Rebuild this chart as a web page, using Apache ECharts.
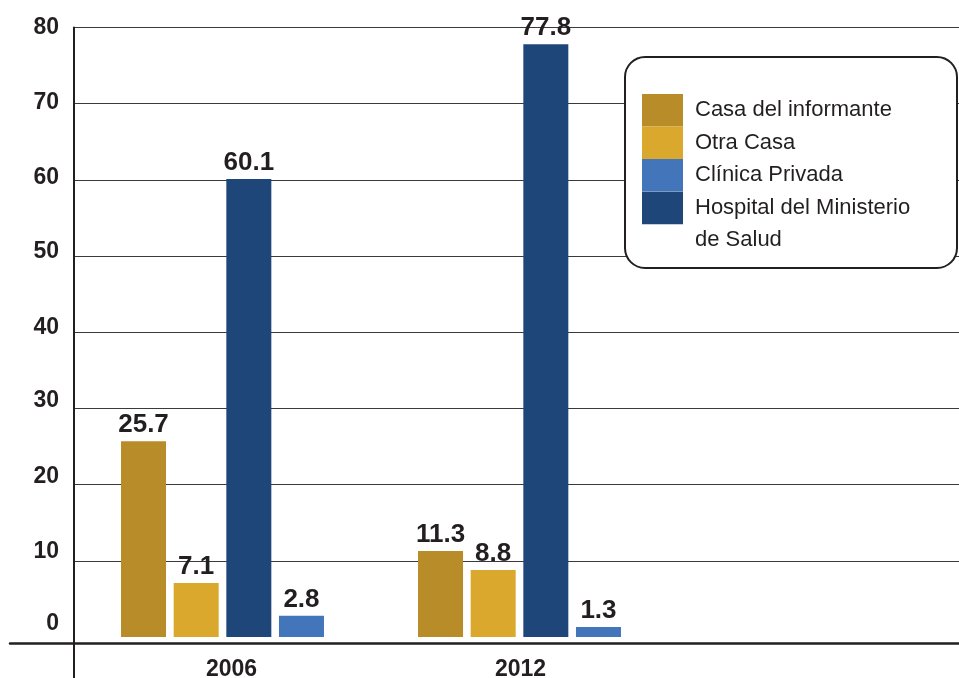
<!DOCTYPE html>
<html>
<head>
<meta charset="utf-8">
<script src="https://cdn.jsdelivr.net/npm/echarts@6/dist/echarts.min.js"></script>
<style>
  html, body { margin: 0; padding: 0; background: #fff; }
  #chart { width: 959px; height: 678px; }
</style>
</head>
<body>
<div id="chart"></div>
<script>
// Categories (an empty third slot leaves room on the right for the legend)
const years = ['2006', '2012', ''];

// Percent of births by place of delivery
const casaInformante = [25.7, 11.3, null];
const otraCasa = [7.1, 8.8, null];
const hospitalMinisterio = [60.1, 77.8, null];
const clinicaPrivada = [2.8, 1.3, null];

// Value axis ticks
const yMin = 0;
const yMax = 80;
const yStep = 10;

const names = {
  casa: 'Casa del informante',
  otra: 'Otra Casa',
  clinica: 'Clínica Privada',
  hospital: 'Hospital del Ministerio de Salud'
};

const colors = {
  casa: '#B88D29',
  otra: '#D9A82C',
  clinica: '#4275BA',
  hospital: '#1F4679'
};

const ink = '#231f20';
const sans = '"Liberation Sans", Arial, sans-serif';

// how far each tick label is lifted above its grid line (bottom padding, px)
const tickLift = { 0: 26, 10: 18, 20: 15, 30: 16, 40: 10, 50: 8, 60: 5, 70: 3, 80: 0 };
const yRich = {};
for (let v = yMin; v <= yMax; v += yStep) {
  yRich['l' + v] = {
    color: ink,
    fontFamily: sans,
    fontWeight: 'bold',
    fontSize: 23,
    padding: [0, 0, tickLift[v] != null ? tickLift[v] : 14, 0]
  };
}

// year labels sit slightly right of their bar groups
const yearShift = { '2006': 18, '2012': 2 };
const categoryData = years.map(y => ({
  value: y,
  textStyle: { padding: [0, 0, 0, yearShift[y] || 0] }
}));

const chart = echarts.init(document.getElementById('chart'), null, { renderer: 'canvas' });

function barSeries(key, values) {
  return {
    name: names[key],
    type: 'bar',
    xAxisIndex: 0,
    yAxisIndex: 0,
    data: values,
    barWidth: 45,
    barGap: '17%',
    itemStyle: { color: colors[key] },
    label: {
      show: true,
      position: 'top',
      distance: 3,
      color: ink,
      fontFamily: sans,
      fontWeight: 'bold',
      fontSize: 26,
      formatter: p => (p.value == null ? '' : p.value.toFixed(1))
    }
  };
}

const legendText = {
  color: ink,
  fontFamily: sans,
  fontSize: 22,
  lineHeight: 32,
  padding: [0, 0, 0, 7]
};

const option = {
  animation: false,
  backgroundColor: '#ffffff',
  grid: [
    // plotting area
    { left: 74, top: 27.5, width: 891, bottom: 41, outerBoundsMode: 'none' },
    // long vertical axis line reaching the bottom edge
    { left: 74, top: 27.5, width: 10, bottom: 0, outerBoundsMode: 'none' },
    // long horizontal base line
    { left: 10, right: 0, top: 27.5, bottom: 35, outerBoundsMode: 'none' }
  ],
  xAxis: [
    {
      gridIndex: 0,
      type: 'category',
      data: categoryData,
      axisLine: { show: false },
      axisTick: { show: false },
      axisLabel: {
        margin: 21,
        color: ink,
        fontFamily: sans,
        fontWeight: 'bold',
        fontSize: 23
      },
      splitLine: { show: false }
    },
    { gridIndex: 1, type: 'value', show: false },
    {
      gridIndex: 2,
      type: 'value',
      axisLine: { show: true, onZero: false, lineStyle: { color: ink, width: 2.5 } },
      axisTick: { show: false },
      axisLabel: { show: false },
      splitLine: { show: false }
    }
  ],
  yAxis: [
    {
      gridIndex: 0,
      type: 'value',
      min: yMin,
      max: yMax,
      interval: yStep,
      axisLine: { show: false },
      axisTick: { show: false },
      axisLabel: {
        margin: 15,
        color: ink,
        fontFamily: sans,
        fontWeight: 'bold',
        fontSize: 23,
        formatter: v => '{l' + v + '|' + v + '}',
        rich: yRich
      },
      splitLine: {
        show: true,
        showMinLine: false,
        lineStyle: { color: '#3a3a3a', width: 1 }
      }
    },
    {
      gridIndex: 1,
      type: 'value',
      position: 'left',
      axisLine: { show: true, onZero: false, lineStyle: { color: ink, width: 2 } },
      axisTick: { show: false },
      axisLabel: { show: false },
      splitLine: { show: false }
    },
    { gridIndex: 2, type: 'value', show: false }
  ],
  legend: [
    {
      orient: 'vertical',
      left: 642,
      top: 94,
      padding: 0,
      itemGap: 0,
      itemWidth: 41,
      itemHeight: 32.5,
      icon: 'rect',
      z: 6,
      selectedMode: false,
      textStyle: legendText,
      data: [names.casa, names.otra, names.clinica]
    },
    {
      orient: 'vertical',
      left: 642,
      bottom: 422,
      padding: 0,
      itemGap: 0,
      itemWidth: 41,
      itemHeight: 32.5,
      icon: 'rect',
      z: 6,
      selectedMode: false,
      textStyle: legendText,
      // blank first line keeps the wrapped name's first row level with the swatch
      formatter: () => '\nHospital del Ministerio\nde Salud',
      data: [names.hospital]
    }
  ],
  graphic: [
    {
      type: 'rect',
      z: 5,
      shape: { x: 625, y: 57, width: 332, height: 211, r: 20 },
      style: { fill: '#ffffff', stroke: ink, lineWidth: 2 }
    }
  ],
  series: [
    barSeries('casa', casaInformante),
    barSeries('otra', otraCasa),
    barSeries('hospital', hospitalMinisterio),
    barSeries('clinica', clinicaPrivada)
  ]
};

chart.setOption(option);
</script>
</body>
</html>
